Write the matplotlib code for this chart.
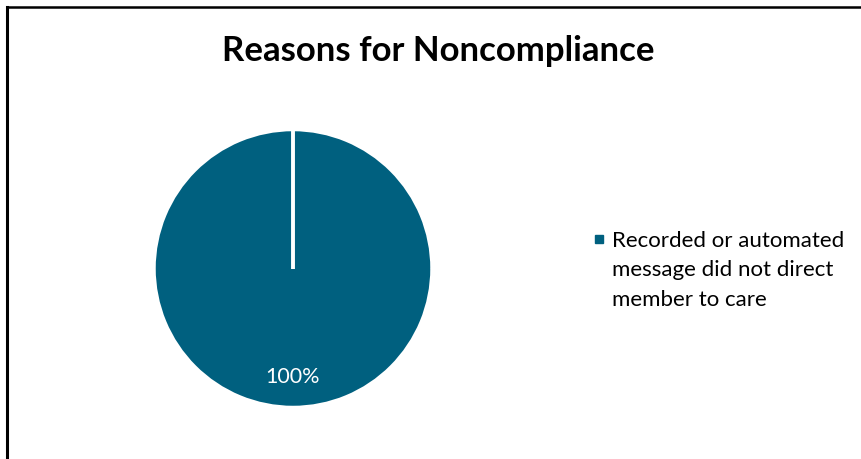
import matplotlib.pyplot as plt
from matplotlib.lines import Line2D
from matplotlib.patches import Rectangle

# Reasons and their shares
reasons = ["Recorded or automated\nmessage did not direct\nmember to care"]
shares = [100]
colors = ["#00607F"]

plt.rcParams["font.family"] = ["Lato", "DejaVu Sans"]

W, H = 861, 459
fig = plt.figure(figsize=(W / 100, H / 100), dpi=100)


def fx(px):
    return px / W


def fy(py):
    # pixel rows counted from the top
    return 1 - py / H


# chart frame: top and left edges only
fig.add_artist(Line2D([fx(7), 1.0], [fy(6.5), fy(6.5)], color="black", lw=1.8,
                      transform=fig.transFigure))
fig.add_artist(Line2D([fx(7), fx(7)], [0.0, fy(6.5)], color="black", lw=2.2,
                      transform=fig.transFigure))

fig.text(fx(438), fy(61), "Reasons for Noncompliance", ha="center", va="baseline",
         fontsize=25, fontweight="bold")

# pie axes, sized so the radius comes out around 139 px
r_px = 139
cx, cy = 293, 268.5
ax = fig.add_axes([fx(cx - r_px), fy(cy + r_px), fx(2 * r_px), 2 * r_px / H])
wedges, _, autotexts = ax.pie(
    shares, colors=colors, startangle=90, counterclock=False,
    autopct="%d%%", pctdistance=0.78,
    wedgeprops=dict(edgecolor="white", linewidth=2.5),
    textprops=dict(color="white", fontsize=15.5),
)
ax.set_aspect("auto")
ax.set_xlim(-1, 1)
ax.set_ylim(-1, 1)
# the single wedge's seam from centre to top
ax.plot([0, 0], [0, 1.0], color="white", lw=2.8, solid_capstyle="butt")

# legend: square key beside the first line of the wrapped label
for i, (label, c) in enumerate(zip(reasons, colors)):
    fig.add_artist(Rectangle((fx(595), fy(243)), fx(8), 8 / H, color=c,
                             transform=fig.transFigure))
    for j, line in enumerate(label.split("\n")):
        fig.text(fx(612), fy(247 + 29.5 * j), line, ha="left", va="baseline",
                 fontsize=16)

fig.savefig("out.png", dpi=100)
